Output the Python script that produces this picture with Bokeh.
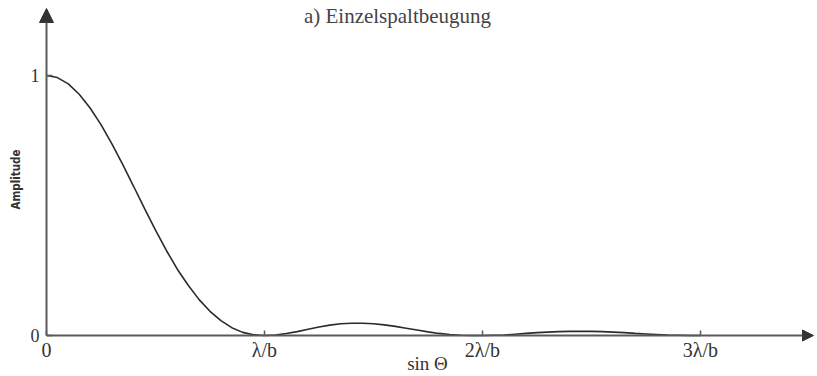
import math
from bokeh.plotting import figure
from bokeh.models import Range1d, FixedTicker, Arrow, NormalHead, Label
from bokeh.embed import file_html
from bokeh.resources import INLINE

# ---- data ----
sin_theta = [0.00, 0.05, 0.10, 0.15, 0.20, 0.25, 0.30, 0.35, 0.40, 0.45,
             0.50, 0.55, 0.60, 0.65, 0.70, 0.75, 0.80, 0.85, 0.90, 0.95,
             1.00, 1.05, 1.10, 1.15, 1.20, 1.25, 1.30, 1.35, 1.40, 1.45,
             1.50, 1.55, 1.60, 1.65, 1.70, 1.75, 1.80, 1.85, 1.90, 1.95,
             2.00, 2.05, 2.10, 2.15, 2.20, 2.25, 2.30, 2.35, 2.40, 2.45,
             2.50, 2.55, 2.60, 2.65, 2.70, 2.75, 2.80, 2.85, 2.90, 2.95,
             3.00]
amplitude = [1.000, 0.992, 0.968, 0.928, 0.875, 0.811, 0.737, 0.657, 0.573, 0.488,
             0.405, 0.327, 0.255, 0.193, 0.138, 0.093, 0.057, 0.030, 0.012, 0.003,
             0.000, 0.002, 0.008, 0.015, 0.024, 0.033, 0.040, 0.045, 0.047, 0.047,
             0.045, 0.041, 0.035, 0.028, 0.021, 0.014, 0.008, 0.004, 0.001, 0.000,
             0.000, 0.001, 0.002, 0.005, 0.008, 0.011, 0.013, 0.015, 0.016, 0.016,
             0.016, 0.015, 0.013, 0.011, 0.008, 0.006, 0.004, 0.002, 0.001, 0.000,
             0.000]
x_ticks = [0, 1, 2, 3]
x_tick_labels = ["0", "λ/b", "2λ/b", "3λ/b"]
y_ticks = [0, 1]
y_tick_labels = ["0", "1"]
title_text = "a) Einzelspaltbeugung"
x_label = "sin Θ"
y_label = "Amplitude"

SERIF = "Liberation Serif"
AXIS_GREY = "#5a5a5a"
TEXT = "#333333"

W, H = 817, 376
X0, Y0 = 46, 335        # pixel position of the origin
X_PX = 218.0            # px per lambda/b
Y_PX = 260.0            # px per amplitude unit
x_lo, x_hi = -X0 / X_PX, (W - X0) / X_PX
y_lo, y_hi = -(H - Y0) / Y_PX, Y0 / Y_PX

p = figure(width=W, height=H,
           x_range=Range1d(x_lo, x_hi), y_range=Range1d(y_lo, y_hi),
           output_backend="svg", toolbar_location=None,
           min_border=0)
p.outline_line_color = None
p.xgrid.visible = False
p.ygrid.visible = False
p.background_fill_color = "white"
p.border_fill_color = "white"

xa = p.xaxis[0]
xa.fixed_location = 0
xa.ticker = FixedTicker(ticks=x_ticks)
xa.major_label_overrides = {t: l for t, l in zip(x_ticks, x_tick_labels)}
xa.axis_line_color = None
xa.major_tick_in = 5
xa.major_tick_out = 0
xa.major_tick_line_color = AXIS_GREY
xa.major_tick_line_width = 1.5
xa.minor_tick_line_color = None
xa.major_label_standoff = 3
xa.major_label_text_font = SERIF
xa.major_label_text_font_size = "20px"
xa.major_label_text_color = TEXT

ya = p.yaxis[0]
ya.fixed_location = 0
ya.ticker = FixedTicker(ticks=y_ticks)
ya.major_label_overrides = {t: l for t, l in zip(y_ticks, y_tick_labels)}
ya.axis_line_color = None
ya.major_tick_in = 6
ya.major_tick_out = 0
ya.major_tick_line_color = AXIS_GREY
ya.major_tick_line_width = 1.5
ya.minor_tick_line_color = None
ya.major_label_standoff = 7
ya.major_label_orientation = "horizontal"
ya.major_label_text_font = SERIF
ya.major_label_text_font_size = "18px"
ya.major_label_text_color = TEXT

# axis lines with arrow heads
p.add_layout(Arrow(x_start=0, y_start=0, x_end=(813 - X0) / X_PX, y_end=0,
                   line_color=AXIS_GREY, line_width=2,
                   end=NormalHead(size=11, fill_color="#333333", line_color="#333333")))
p.add_layout(Arrow(x_start=0, y_start=0, x_end=0, y_end=(Y0 - 8) / Y_PX,
                   line_color=AXIS_GREY, line_width=2,
                   end=NormalHead(size=14, fill_color="#333333", line_color="#333333")))

# curve
p.line(sin_theta, amplitude, line_color="#2b2b2b", line_width=1.6)

# axis titles
p.add_layout(Label(x=(427 - X0) / X_PX, y=-(363 - Y0) / Y_PX, text=x_label,
                   text_align="center", text_baseline="alphabetic",
                   text_font=SERIF, text_font_size="19px", text_color=TEXT))
p.add_layout(Label(x=(15 - X0) / X_PX, y=(Y0 - 179) / Y_PX, text=y_label,
                   angle=math.pi / 2, text_align="center", text_baseline="middle",
                   text_font="DejaVu Sans Condensed", text_font_size="11.5px",
                   text_font_style="bold", text_color=TEXT))

# title at the top edge, kept fully inside the canvas
p.add_layout(Label(x=(397 - X0) / X_PX, y=y_hi, y_offset=-15, text=title_text,
                   text_align="center", text_baseline="alphabetic",
                   text_font=SERIF, text_font_size="21px", text_color="#444444"))

open("out.html", "w").write(file_html(p, INLINE))
